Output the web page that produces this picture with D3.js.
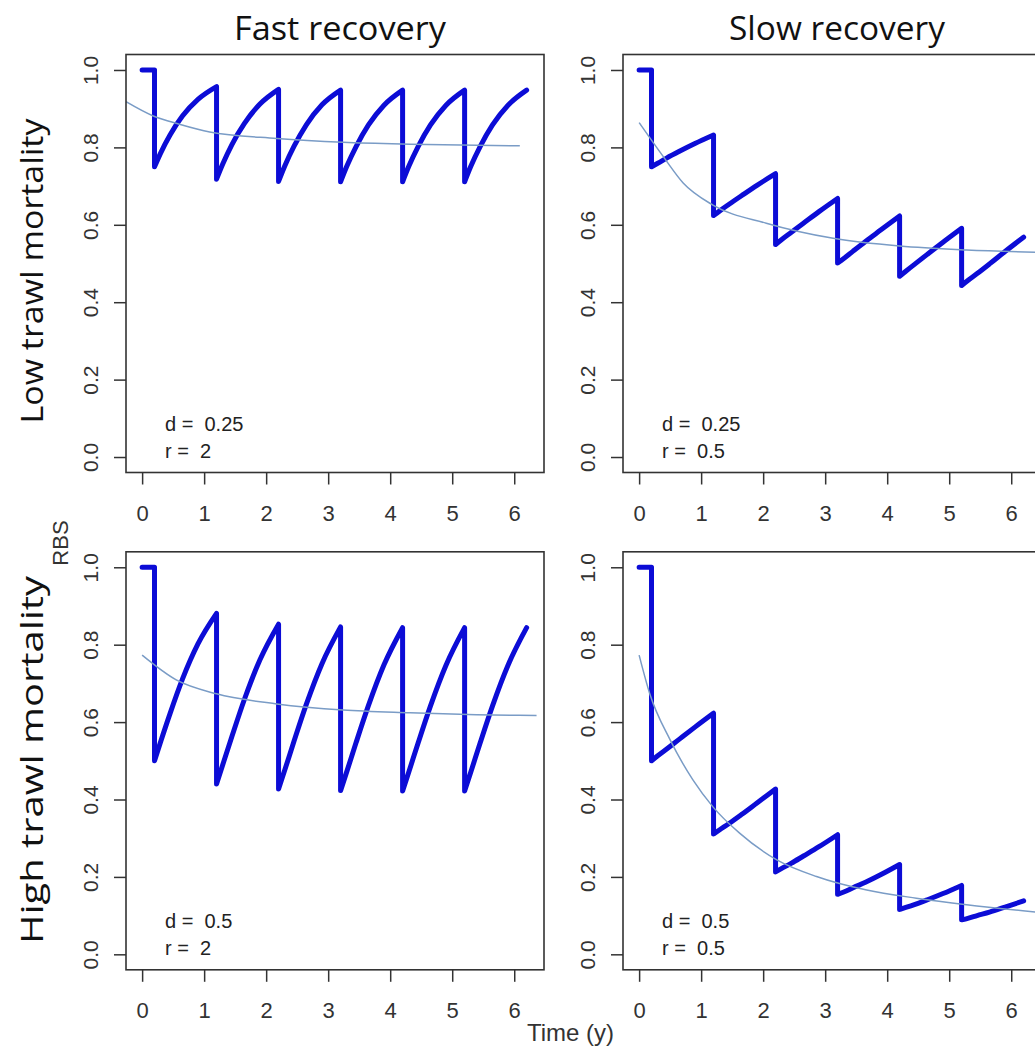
<!DOCTYPE html>
<html lang="en">
<head>
<meta charset="UTF-8">
<title>RBS recovery</title>
<style>
  body { margin: 0; background: #fff; overflow: hidden; }
  svg { display: block; }
  .tick text { font-family: "Liberation Sans", Arial, sans-serif; fill: #333; }
  .tick line { stroke: #333; stroke-width: 1.5; }
</style>
<script src="https://cdnjs.cloudflare.com/ajax/libs/d3/7.8.5/d3.min.js"></script>
</head>
<body>
<script>
// trawling events (years) and sampling offsets within each recovery year
var trawlTimes = [0.2, 1.2, 2.2, 3.2, 4.2, 5.2];
var cycleOffsets = [0, 0.1, 0.25, 0.45, 0.7, 1.0];
var startRBS = 1.0;

// RBS (value at each offset after a trawl)
var lowFast = [
  [0.750, 0.786, 0.832, 0.881, 0.924, 0.957],
  [0.718, 0.757, 0.808, 0.862, 0.912, 0.950],
  [0.712, 0.752, 0.803, 0.859, 0.910, 0.948],
  [0.711, 0.751, 0.802, 0.858, 0.909, 0.948],
  [0.711, 0.751, 0.802, 0.858, 0.909, 0.948],
  [0.711, 0.751, 0.802, 0.858, 0.909, 0.948]
];
var lowSlow = [
  [0.750, 0.759, 0.773, 0.790, 0.810, 0.832],
  [0.624, 0.636, 0.653, 0.675, 0.702, 0.732],
  [0.549, 0.562, 0.580, 0.604, 0.634, 0.668],
  [0.501, 0.513, 0.532, 0.557, 0.587, 0.623],
  [0.467, 0.480, 0.499, 0.524, 0.555, 0.591],
  [0.443, 0.456, 0.474, 0.499, 0.531, 0.568]
];
var highFast = [
  [0.500, 0.550, 0.622, 0.711, 0.802, 0.881],
  [0.440, 0.490, 0.564, 0.659, 0.761, 0.853],
  [0.427, 0.476, 0.551, 0.647, 0.751, 0.846],
  [0.423, 0.472, 0.547, 0.643, 0.748, 0.844],
  [0.422, 0.471, 0.546, 0.642, 0.747, 0.844],
  [0.422, 0.471, 0.546, 0.642, 0.747, 0.844]
];
var highSlow = [
  [0.500, 0.513, 0.531, 0.556, 0.587, 0.623],
  [0.311, 0.322, 0.338, 0.361, 0.391, 0.427],
  [0.213, 0.222, 0.235, 0.254, 0.278, 0.309],
  [0.155, 0.161, 0.172, 0.186, 0.206, 0.232],
  [0.116, 0.121, 0.129, 0.141, 0.157, 0.178],
  [0.089, 0.093, 0.100, 0.109, 0.122, 0.138]
];

// thin trend curves
var lowFastTrendT = [-0.26, 0.18, 0.6, 1.09, 2.17, 3.24, 4.32, 6.09];
var lowFastTrend  = [0.918, 0.881, 0.860, 0.840, 0.823, 0.813, 0.808, 0.804];
var lowSlowTrendT = [0, 0.39, 0.71, 1.19, 2.05, 3.13, 4.2, 5.28, 6.48];
var lowSlowTrend  = [0.864, 0.776, 0.708, 0.651, 0.604, 0.565, 0.545, 0.535, 0.529];
var highFastTrendT = [0, 0.55, 1.2, 2.17, 3.24, 4.32, 5.39, 6.36];
var highFastTrend  = [0.773, 0.709, 0.673, 0.647, 0.631, 0.624, 0.619, 0.617];
var highSlowTrendT = [0, 0.17, 0.5, 0.87, 1.19, 1.62, 2.22, 2.86, 3.67, 4.47, 5.28, 6.48];
var highSlowTrend  = [0.773, 0.674, 0.554, 0.450, 0.381, 0.313, 0.244, 0.201, 0.166, 0.145, 0.128, 0.108];

var xTicks = [0, 1, 2, 3, 4, 5, 6];
var yTicks = [0, 0.2, 0.4, 0.6, 0.8, 1.0];
var colTitles = ['Fast recovery', 'Slow recovery'];
var rowTitles = ['Low trawl mortality', 'High trawl mortality'];
var dLabels = ['0.25', '0.25', '0.5', '0.5'];
var rLabels = ['2', '0.5', '2', '0.5'];

var panels = [
  {row: 0, col: 0, cycles: lowFast,  trendT: lowFastTrendT,  trend: lowFastTrend},
  {row: 0, col: 1, cycles: lowSlow,  trendT: lowSlowTrendT,  trend: lowSlowTrend},
  {row: 1, col: 0, cycles: highFast, trendT: highFastTrendT, trend: highFastTrend},
  {row: 1, col: 1, cycles: highSlow, trendT: highSlowTrendT, trend: highSlowTrend}
];

// layout
var width = 1035, height = 1050;
var panelLeft = [126, 623];
var panelTop = [54.5, 551.8];
var plotSize = 418;
var xDomain = [-0.26, 6.48];
var yDomain = [-0.04, 1.04];

var svg = d3.select('body').append('svg')
  .attr('width', width)
  .attr('height', height);

var defs = svg.append('defs');

panels.forEach(function(p, i) {
  var left = panelLeft[p.col], top = panelTop[p.row];
  var x = d3.scaleLinear().domain(xDomain).range([left, left + plotSize]);
  var y = d3.scaleLinear().domain(yDomain).range([top + plotSize, top]);
  var g = svg.append('g');

  defs.append('clipPath').attr('id', 'clip' + i)
    .append('rect')
    .attr('x', left).attr('y', top)
    .attr('width', plotSize).attr('height', plotSize);

  // thick RBS line: flat start, then a drop and recovery each year
  var straight = d3.line().x(function(d) { return x(d[0]); }).y(function(d) { return y(d[1]); });
  var smooth = d3.line().x(function(d) { return x(d[0]); }).y(function(d) { return y(d[1]); })
    .curve(d3.curveMonotoneX);
  var path = straight([[0, startRBS], [trawlTimes[0], startRBS]]);
  p.cycles.forEach(function(vals, k) {
    var pts = vals.map(function(v, j) { return [trawlTimes[k] + cycleOffsets[j], v]; });
    path += smooth(pts).replace(/^M/, 'L');
  });

  var plot = g.append('g').attr('clip-path', 'url(#clip' + i + ')');
  plot.append('path')
    .attr('d', path)
    .attr('fill', 'none')
    .attr('stroke', '#0c0cd6')
    .attr('stroke-width', 5)
    .attr('stroke-linejoin', 'round')
    .attr('stroke-linecap', 'round');

  plot.append('path')
    .attr('d', smooth(p.trendT.map(function(t, j) { return [t, p.trend[j]]; })))
    .attr('fill', 'none')
    .attr('stroke', '#7a9cc6')
    .attr('stroke-width', 1.5);

  // box
  g.append('rect')
    .attr('x', left).attr('y', top)
    .attr('width', plotSize).attr('height', plotSize)
    .attr('fill', 'none')
    .attr('stroke', '#333')
    .attr('stroke-width', 1.6);

  // axes
  var xAxis = g.append('g')
    .attr('transform', 'translate(0,' + (top + plotSize) + ')')
    .call(d3.axisBottom(x).tickValues(xTicks).tickSize(12).tickPadding(21).tickFormat(d3.format('d')));
  xAxis.select('.domain').remove();
  xAxis.selectAll('text').attr('font-size', 22);

  var yAxis = g.append('g')
    .attr('transform', 'translate(' + left + ',0)')
    .call(d3.axisLeft(y).tickValues(yTicks).tickSize(12).tickFormat(d3.format('.1f')));
  yAxis.select('.domain').remove();
  yAxis.selectAll('text')
    .attr('font-size', 21)
    .attr('text-anchor', 'middle')
    .attr('x', null)
    .attr('dy', null)
    .attr('transform', 'translate(-28,0) rotate(-90)');

  // parameter annotation
  var note = g.append('g')
    .attr('font-family', '"Liberation Sans", Arial, sans-serif')
    .attr('font-size', 20)
    .attr('fill', '#222');
  note.append('text').attr('x', left + 39).attr('y', top + plotSize - 42)
    .attr('xml:space', 'preserve').text('d =  ' + dLabels[i]);
  note.append('text').attr('x', left + 39).attr('y', top + plotSize - 15)
    .attr('xml:space', 'preserve').text('r =  ' + rLabels[i]);
});

// column titles
var colLengths = [212, 216];
svg.selectAll('.coltitle')
  .data(colTitles)
  .enter().append('text')
  .attr('class', 'coltitle')
  .attr('x', function(d, i) { return panelLeft[i] + plotSize / 2 + 5; })
  .attr('y', 40)
  .attr('text-anchor', 'middle')
  .attr('font-family', '"Open Sans", sans-serif')
  .attr('font-size', 32)
  .attr('fill', '#111')
  .attr('textLength', function(d, i) { return colLengths[i]; })
  .attr('lengthAdjust', 'spacingAndGlyphs')
  .text(function(d) { return d; });

// row titles
var rowCenters = [271, 760];
var rowLengths = [305, 368];
svg.selectAll('.rowtitle')
  .data(rowTitles)
  .enter().append('text')
  .attr('class', 'rowtitle')
  .attr('transform', function(d, i) { return 'translate(43,' + rowCenters[i] + ') rotate(-90)'; })
  .attr('text-anchor', 'middle')
  .attr('font-family', '"Open Sans", sans-serif')
  .attr('font-size', 31)
  .attr('fill', '#111')
  .attr('textLength', function(d, i) { return rowLengths[i]; })
  .attr('lengthAdjust', 'spacingAndGlyphs')
  .text(function(d) { return d; });

// shared axis labels
svg.append('text')
  .attr('transform', 'translate(68,543) rotate(-90)')
  .attr('text-anchor', 'middle')
  .attr('font-family', '"Liberation Sans", Arial, sans-serif')
  .attr('font-size', 22)
  .attr('fill', '#333')
  .text('RBS');

svg.append('text')
  .attr('x', 527)
  .attr('y', 1041)
  .attr('font-family', '"Liberation Sans", Arial, sans-serif')
  .attr('font-size', 24)
  .attr('fill', '#333')
  .text('Time (y)');
</script>
</body>
</html>
